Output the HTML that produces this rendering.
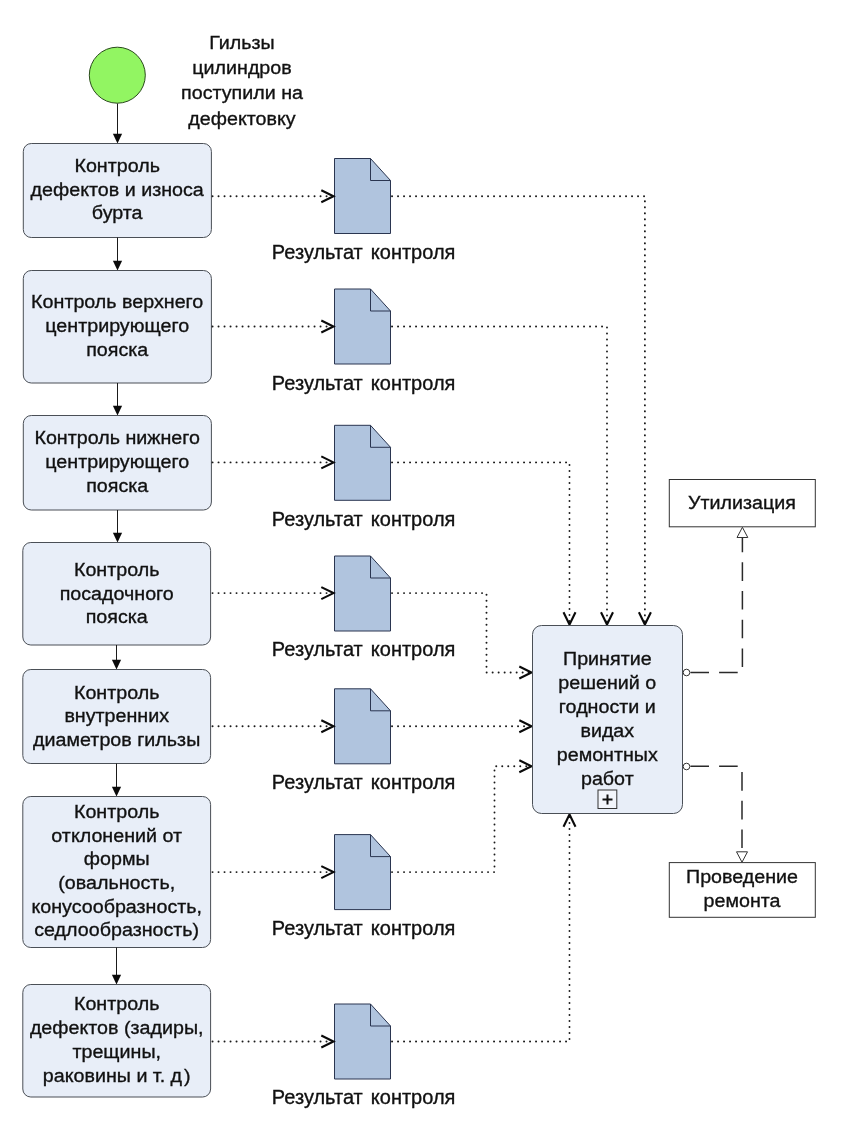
<!DOCTYPE html>
<html lang="ru"><head><meta charset="utf-8"><title>Дефектовка гильз цилиндров</title>
<style>
html,body{margin:0;padding:0;background:#fff}
svg{display:block;will-change:transform}
text{font-family:"Liberation Sans",Arial,sans-serif;font-size:19.7px;fill:#111;stroke:#111;stroke-width:0.35px;text-anchor:middle}
.bx{fill:#e8eef8;stroke:#4a4f56;stroke-width:1}
.wb{fill:#fff;stroke:#333;stroke-width:1}
.ln{stroke:#1a1a1a;stroke-width:1;fill:none}
.hd{fill:#0a0a0a;stroke:none}
.dc{fill:#b0c4de;stroke:#2a3550;stroke-width:1}
.dcf{fill:none;stroke:#2a3550;stroke-width:1}
.dt{fill:none;stroke:#1a1a1a;stroke-width:1.9;stroke-linecap:round;stroke-dasharray:0.1 5.9}
.oh{fill:none;stroke:#0a0a0a;stroke-width:2.1}
.ds{fill:none;stroke:#2a2a2a;stroke-width:1.5;stroke-dasharray:18.6 10.1}
.lb{word-spacing:2.5px;font-size:20px}
.tri{fill:#fff;stroke:#333;stroke-width:1}
</style></head>
<body>
<svg width="845" height="1134" viewBox="0 0 845 1134">
<rect width="845" height="1134" fill="#fff"/>
<circle cx="117.3" cy="75.2" r="28" fill="#92f562" stroke="#2a4a1c" stroke-width="1"/>
<text transform="translate(242 48.50) scale(1 0.975)">Гильзы</text>
<text transform="translate(242 73.90) scale(1 0.975)">цилиндров</text>
<text transform="translate(242 99.30) scale(1 0.975)">поступили на</text>
<text transform="translate(242 124.70) scale(1 0.975)">дефектовку</text>
<path class="ln" d="M117.5 103.5V135.5"/>
<path class="hd" d="M112.9 133.7H122.1L117.5 143.5Z"/>
<rect class="bx" x="23.3" y="143.5" width="188.1" height="94.0" rx="8" ry="8"/>
<path class="ln" d="M117.5 237.5V262.5"/>
<path class="hd" d="M112.9 260.7H122.1L117.5 270.5Z"/>
<text transform="translate(117.2 172.00) scale(1 0.975)">Контроль</text>
<text transform="translate(117.2 195.70) scale(1 0.975)">дефектов и износа</text>
<text transform="translate(117.2 219.40) scale(1 0.975)">бурта</text>
<rect class="bx" x="23.3" y="270.5" width="188.1" height="112.5" rx="8" ry="8"/>
<path class="ln" d="M117.5 383V407.5"/>
<path class="hd" d="M112.9 405.7H122.1L117.5 415.5Z"/>
<text transform="translate(117.2 308.25) scale(1 0.975)">Контроль верхнего</text>
<text transform="translate(117.2 331.95) scale(1 0.975)">центрирующего</text>
<text transform="translate(117.2 355.65) scale(1 0.975)">пояска</text>
<rect class="bx" x="23.3" y="415.5" width="188.1" height="94.5" rx="8" ry="8"/>
<path class="ln" d="M117.5 510V534.5"/>
<path class="hd" d="M112.9 532.7H122.1L117.5 542.5Z"/>
<text transform="translate(117.2 444.25) scale(1 0.975)">Контроль нижнего</text>
<text transform="translate(117.2 467.95) scale(1 0.975)">центрирующего</text>
<text transform="translate(117.2 491.65) scale(1 0.975)">пояска</text>
<rect class="bx" x="22.8" y="542.5" width="187.8" height="102.5" rx="8" ry="8"/>
<path class="ln" d="M116.5 645V661.5"/>
<path class="hd" d="M111.9 659.7H121.1L116.5 669.5Z"/>
<text transform="translate(116.7 576.05) scale(1 0.975)">Контроль</text>
<text transform="translate(116.7 599.75) scale(1 0.975)">посадочного</text>
<text transform="translate(116.7 623.45) scale(1 0.975)">пояска</text>
<rect class="bx" x="22.8" y="669.5" width="187.8" height="94.0" rx="8" ry="8"/>
<path class="ln" d="M116.5 763.5V788.5"/>
<path class="hd" d="M111.9 786.7H121.1L116.5 796.5Z"/>
<text transform="translate(116.7 698.60) scale(1 0.975)">Контроль</text>
<text transform="translate(116.7 722.30) scale(1 0.975)">внутренних</text>
<text transform="translate(116.7 746.00) scale(1 0.975)">диаметров гильзы</text>
<rect class="bx" x="22.8" y="796.5" width="187.8" height="151.0" rx="8" ry="8"/>
<path class="ln" d="M116.5 947.5V976.5"/>
<path class="hd" d="M111.9 974.7H121.1L116.5 984.5Z"/>
<text transform="translate(116.7 817.95) scale(1 0.975)">Контроль</text>
<text transform="translate(116.7 841.65) scale(1 0.975)">отклонений от</text>
<text transform="translate(116.7 865.35) scale(1 0.975)">формы</text>
<text transform="translate(116.7 889.05) scale(1 0.975)">(овальность,</text>
<text transform="translate(116.7 912.75) scale(1 0.975)">конусообразность,</text>
<text transform="translate(116.7 936.45) scale(1 0.975)">седлообразность)</text>
<rect class="bx" x="22.8" y="984.5" width="187.8" height="112.5" rx="8" ry="8"/>
<text transform="translate(116.7 1010.40) scale(1 0.975)">Контроль</text>
<text transform="translate(116.7 1034.10) scale(1 0.975)">дефектов (задиры,</text>
<text transform="translate(116.7 1057.80) scale(1 0.975)">трещины,</text>
<text transform="translate(116.7 1081.50) scale(1 0.975)">раковины и т. д<tspan dx="-3.5"> )</tspan></text>
<path class="dc" d="M334.5 158.5H370.5L390.5 180.5V233.5H334.5Z"/>
<path class="dcf" d="M370.5 158.5V180.5H390.5"/>
<path class="dt" d="M212.5 196.2H331.5"/>
<path class="oh" d="M321.3 190.2L333.5 196.2L321.3 202.2"/>
<text class="lb" transform="translate(363.6 258.70) scale(1 0.975)">Результат контроля</text>
<path class="dc" d="M334.5 289.0H370.5L390.5 311.0V364.0H334.5Z"/>
<path class="dcf" d="M370.5 289.0V311.0H390.5"/>
<path class="dt" d="M212.5 326.5H331.5"/>
<path class="oh" d="M321.3 320.5L333.5 326.5L321.3 332.5"/>
<text class="lb" transform="translate(363.6 389.70) scale(1 0.975)">Результат контроля</text>
<path class="dc" d="M334.5 425.3H370.5L390.5 447.3V500.3H334.5Z"/>
<path class="dcf" d="M370.5 425.3V447.3H390.5"/>
<path class="dt" d="M212.5 462.4H331.5"/>
<path class="oh" d="M321.3 456.4L333.5 462.4L321.3 468.4"/>
<text class="lb" transform="translate(363.6 526.10) scale(1 0.975)">Результат контроля</text>
<path class="dc" d="M334.5 556.0H370.5L390.5 578.0V631.0H334.5Z"/>
<path class="dcf" d="M370.5 556.0V578.0H390.5"/>
<path class="dt" d="M212.5 593.1H331.5"/>
<path class="oh" d="M321.3 587.1L333.5 593.1L321.3 599.1"/>
<text class="lb" transform="translate(363.6 656.30) scale(1 0.975)">Результат контроля</text>
<path class="dc" d="M334.5 688.8H370.5L390.5 710.8V763.8H334.5Z"/>
<path class="dcf" d="M370.5 688.8V710.8H390.5"/>
<path class="dt" d="M212.5 726.3H331.5"/>
<path class="oh" d="M321.3 720.3L333.5 726.3L321.3 732.3"/>
<text class="lb" transform="translate(363.6 789.00) scale(1 0.975)">Результат контроля</text>
<path class="dc" d="M334.5 834.6H370.5L390.5 856.6V909.6H334.5Z"/>
<path class="dcf" d="M370.5 834.6V856.6H390.5"/>
<path class="dt" d="M212.5 872.1H331.5"/>
<path class="oh" d="M321.3 866.1L333.5 872.1L321.3 878.1"/>
<text class="lb" transform="translate(363.6 935.10) scale(1 0.975)">Результат контроля</text>
<path class="dc" d="M334.5 1004.0H370.5L390.5 1026.0V1079.0H334.5Z"/>
<path class="dcf" d="M370.5 1004.0V1026.0H390.5"/>
<path class="dt" d="M212.5 1041.5H331.5"/>
<path class="oh" d="M321.3 1035.5L333.5 1041.5L321.3 1047.5"/>
<text class="lb" transform="translate(363.6 1103.80) scale(1 0.975)">Результат контроля</text>
<path class="dt" d="M392 196.2H644.9V623.5"/>
<path class="oh" d="M638.9 612.3L644.9 624.5L650.9 612.3"/>
<path class="dt" d="M392 326.5H607V623.5"/>
<path class="oh" d="M601 612.3L607 624.5L613 612.3"/>
<path class="dt" d="M392 462.4H569.5V623.5"/>
<path class="oh" d="M563.5 612.3L569.5 624.5L575.5 612.3"/>
<path class="dt" d="M392 593.1H486.5V672.5H529.5"/>
<path class="oh" d="M519.3 666.5L531.5 672.5L519.3 678.5"/>
<path class="dt" d="M392 726.3H529.5"/>
<path class="oh" d="M519.3 720.3L531.5 726.3L519.3 732.3"/>
<path class="dt" d="M392 872.1H494.5V766.3H529.5"/>
<path class="oh" d="M519.3 760.3L531.5 766.3L519.3 772.3"/>
<path class="dt" d="M392 1041.5H569.5V815.5"/>
<path class="oh" d="M563.5 826.7L569.5 814.5L575.5 826.7"/>
<rect class="bx" x="532.5" y="625.5" width="150.0" height="188.0" rx="9" ry="9"/>
<text transform="translate(607.3 665.30) scale(1 0.975)">Принятие</text>
<text transform="translate(607.3 689.20) scale(1 0.975)">решений о</text>
<text transform="translate(607.3 713.10) scale(1 0.975)">годности и</text>
<text transform="translate(607.3 737.00) scale(1 0.975)">видах</text>
<text transform="translate(607.3 760.90) scale(1 0.975)">ремонтных</text>
<text transform="translate(607.3 784.80) scale(1 0.975)">работ</text>
<rect x="598" y="790" width="18.8" height="18.5" fill="#f2f5fb" stroke="#333" stroke-width="1"/>
<path d="M602.5 799.5H612.5M607.5 794.5V804.5" stroke="#111" stroke-width="2" fill="none"/>
<rect class="wb" x="669.3" y="479.5" width="146" height="47.3"/>
<text transform="translate(742 509.40) scale(1 0.975)">Утилизация</text>
<rect class="wb" x="669.3" y="862.6" width="146" height="54.7"/>
<text transform="translate(742 883.00) scale(1 0.975)">Проведение</text>
<text transform="translate(742 906.70) scale(1 0.975)">ремонта</text>
<path class="ds" d="M690.4 672.4H742.4V537.5"/>
<path class="ds" d="M690.4 766.3H742V851.8"/>
<circle cx="686.5" cy="672.5" r="3.3" fill="#fff" stroke="#333" stroke-width="1"/>
<circle cx="686.5" cy="766.5" r="3.3" fill="#fff" stroke="#333" stroke-width="1"/>
<path class="tri" d="M742.4 527.3L737 537.5H747.8Z"/>
<path class="tri" d="M742 862.2L736.5 851.8H747.5Z"/>
</svg>
</body></html>
